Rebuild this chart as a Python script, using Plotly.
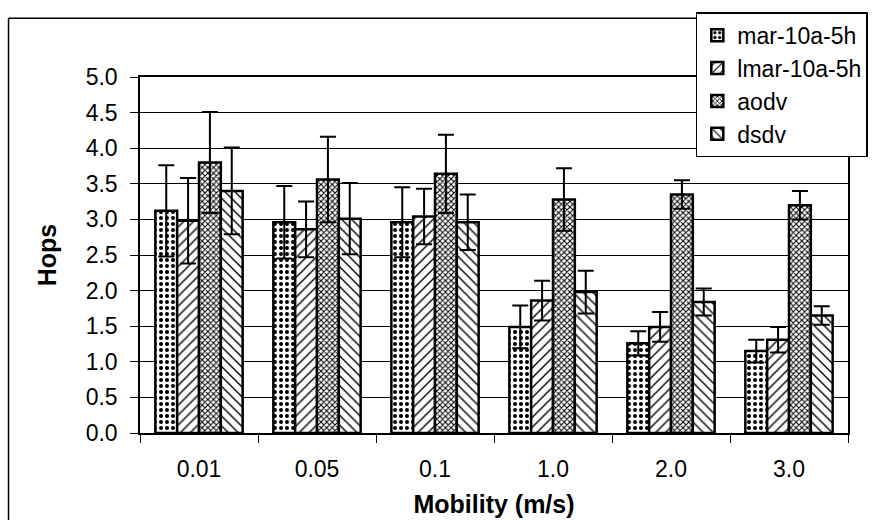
import plotly.graph_objects as go

categories = ["0.01", "0.05", "0.1", "1.0", "2.0", "3.0"]
series_names = ["mar-10a-5h", "lmar-10a-5h", "aodv", "dsdv"]

mar_vals = [3.12, 2.96, 2.96, 1.49, 1.26, 1.15]
mar_err = [0.64, 0.51, 0.49, 0.30, 0.17, 0.16]
lmar_vals = [2.98, 2.86, 3.04, 1.86, 1.49, 1.31]
lmar_err = [0.60, 0.39, 0.39, 0.28, 0.21, 0.18]
aodv_vals = [3.80, 3.56, 3.64, 3.28, 3.35, 3.20]
aodv_err = [0.71, 0.60, 0.55, 0.44, 0.20, 0.20]
dsdv_vals = [3.40, 3.01, 2.96, 1.98, 1.84, 1.65]
dsdv_err = [0.61, 0.50, 0.39, 0.30, 0.19, 0.13]

y_ticks = [0, 0.5, 1, 1.5, 2, 2.5, 3, 3.5, 4, 4.5, 5]

values = [mar_vals, lmar_vals, aodv_vals, dsdv_vals]
errors = [mar_err, lmar_err, aodv_err, dsdv_err]
patterns = [
    dict(shape=".", size=6, solidity=0.35),
    dict(shape="/", size=7, solidity=0.2),
    dict(shape="x", size=4, solidity=0.45),
    dict(shape="\\", size=7, solidity=0.2),
]

FONT = "Liberation Sans, Arial, sans-serif"

fig = go.Figure()
for name, v, e, p in zip(series_names, values, errors, patterns):
    fig.add_trace(go.Bar(
        name=name, x=categories, y=v,
        marker=dict(color="white", line=dict(color="black", width=2.5),
                    pattern=dict(fillmode="replace", bgcolor="white", fgcolor="black", **p)),
        error_y=dict(type="data", array=e, visible=True, color="black", thickness=2, width=8),
    ))

fig.update_layout(
    width=880, height=520,
    margin=dict(l=140, r=29, t=70, b=87),
    paper_bgcolor="white", plot_bgcolor="white",
    barmode="group", bargap=0.26, bargroupgap=0,
    font=dict(family=FONT, size=23, color="black"),
    showlegend=True,
    legend=dict(
        x=1.028, xanchor="right", y=1.182, yanchor="top",
        bgcolor="white", bordercolor="black", borderwidth=1.5,
        font=dict(size=23), itemwidth=30, tracegroupgap=0,
    ),
    xaxis=dict(
        type="category", showline=True, linecolor="black", linewidth=1.5, mirror=True,
        ticks="outside", tickson="boundaries", ticklen=8, tickcolor="black",
        ticklabelstandoff=15, showgrid=False, automargin=False,
        title=dict(text="<b>Mobility (m/s)</b>", standoff=14, font=dict(size=25)),
    ),
    yaxis=dict(
        range=[0, 5], tickvals=y_ticks, tickformat=".1f",
        showline=True, linecolor="black", linewidth=1.5, mirror=True,
        ticks="outside", ticklen=8, tickcolor="black", ticklabelstandoff=8,
        showgrid=True, gridcolor="black", gridwidth=1, zeroline=False, automargin=False,
        title=dict(text="<b>Hops</b>", standoff=22, font=dict(size=25)),
    ),
    shapes=[
        dict(type="line", xref="paper", yref="paper", x0=-0.1857, x1=1.028, y0=1.165, y1=1.165,
             line=dict(color="black", width=1.5), layer="below"),
        dict(type="line", xref="paper", yref="paper", x0=-0.1857, x1=-0.1857, y0=1.165, y1=-0.3,
             line=dict(color="black", width=1.5), layer="below"),
    ],
)

fig.write_html("out.html")
